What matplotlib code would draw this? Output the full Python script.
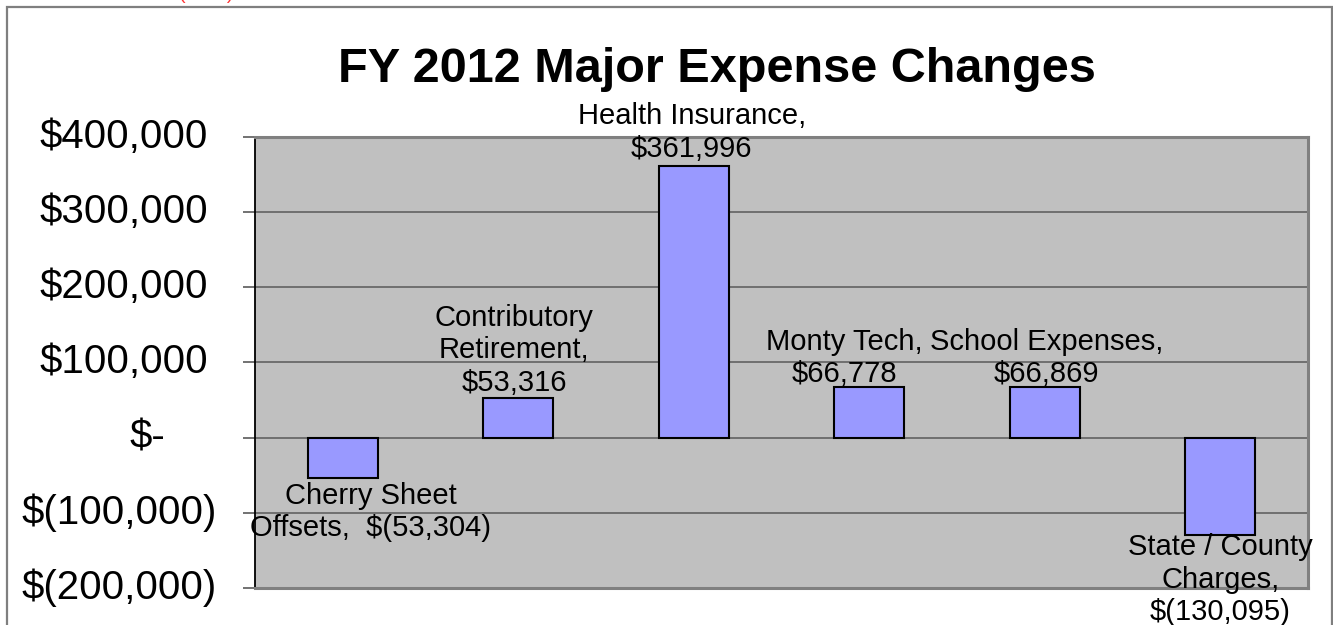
import matplotlib
matplotlib.use("Agg")
import matplotlib.pyplot as plt
from matplotlib.patches import Rectangle
import matplotlib.transforms as mtransforms

plt.rcParams['font.family'] = ['Liberation Sans', 'DejaVu Sans']

title = "FY 2012 Major Expense Changes"
categories = ["Cherry Sheet\nOffsets,  $(53,304)",
              "Contributory\nRetirement,\n$53,316",
              "Health Insurance,\n$361,996",
              "Monty Tech,\n$66,778",
              "School Expenses,\n$66,869",
              "State / County\nCharges,\n$(130,095)"]
values = [-53304, 53316, 361996, 66778, 66869, -130095]
yticks = [400000, 300000, 200000, 100000, 0, -100000, -200000]
ytick_labels = ["$400,000", "$300,000", "$200,000", "$100,000", "$-",
                "$(100,000)", "$(200,000)"]

W, H = 1333, 625
fig = plt.figure(figsize=(W / 100, H / 100), dpi=100)
fig.patch.set_facecolor('white')

# outer chart frame
fig.patches.append(Rectangle((7 / W, -0.05), (1332 - 7) / W, 1.05 - 7 / H,
                             transform=fig.transFigure, fill=False,
                             edgecolor='#7f7f7f', linewidth=1.6, zorder=0))

ax = fig.add_axes([255 / W, (H - 588) / H, (1308 - 255) / W, (588 - 137) / H])
ax.set_facecolor('#c0c0c0')

x = list(range(len(values)))
ax.bar(x, values, width=0.4, color='#9999ff', edgecolor='black',
       linewidth=1.5, zorder=3)

ax.set_xlim(-0.5, len(values) - 0.5)
ax.set_ylim(-200000, 400000)
ax.set_yticks(yticks)
ax.set_yticklabels([])
ax.set_xticks([])
ax.grid(axis='y', color='#5a5a5a', linewidth=1.1, zorder=1)
ax.tick_params(axis='y', length=9, width=1.2, color='#5a5a5a', direction='out')

for s in ['top', 'right', 'bottom']:
    ax.spines[s].set_color('#808080')
    ax.spines[s].set_linewidth(2.2)
ax.spines['left'].set_color('black')
ax.spines['left'].set_linewidth(1.3)

# y tick labels (accounting-style alignment)
blend = mtransforms.blended_transform_factory(ax.transAxes, ax.transData)
for v, lab in zip(yticks, ytick_labels):
    if lab.startswith("$("):
        dx = -38
    elif lab == "$-":
        dx = -90
    else:
        dx = -47
    ax.annotate(lab, xy=(0, v), xycoords=blend, xytext=(dx, 0),
                textcoords='offset pixels', ha='right', va='center',
                fontsize=29, color='black', annotation_clip=False)

# data labels
offsets = [(28, -4, 'top'), (-4, 1, 'bottom'), (-2, 3, 'bottom'),
           (-25, -1, 'bottom'), (2, -1, 'bottom'), (0, 2, 'top')]
for xi, v, lab, (dx, dy, va) in zip(x, values, categories, offsets):
    ax.annotate(lab, xy=(xi, v), xycoords='data', xytext=(dx, dy),
                textcoords='offset pixels', ha='center', va=va,
                fontsize=21, linespacing=1.19, color='black', zorder=5,
                annotation_clip=False)

fig.text(717 / W, 1 - 82 / H, title, ha='center', va='baseline',
         fontsize=35, fontweight='bold', color='black')

# partially visible red note at very top (cut off, as in the original)
fig.text(206 / W, 1 + 1 / H, "(cont.)", ha='center', va='baseline',
         fontsize=14, color='#ff3333')

fig.savefig("out.png", dpi=100)
